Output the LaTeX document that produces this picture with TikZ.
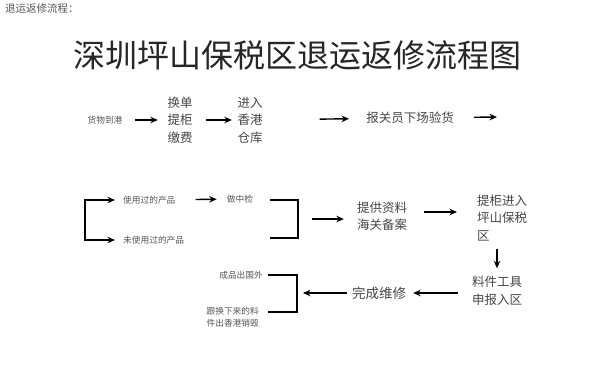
\documentclass[tikz,border=0pt]{standalone}
\usepackage{fontspec}
\newfontfamily\cjk{Noto Sans CJK SC}
\usepackage{tikz}
\usetikzlibrary{arrows.meta}
\definecolor{txtgray}{RGB}{70,70,70}
\definecolor{smallgray}{RGB}{85,85,85}
\tikzset{
  mid/.style={font=\cjk\fontsize{12.5}{17.5}\selectfont, text=txtgray, inner sep=0pt, align=center},
  tiny/.style={font=\cjk\fontsize{8.7}{12}\selectfont, text=smallgray, inner sep=0pt, align=center},
  arr/.style={-{Stealth[length=7.5pt,width=6.5pt]}, line width=1.4pt},
  brk/.style={line width=1.4pt}
}

\begin{document}
\begin{tikzpicture}[x=1pt, y=-1pt]
  \useasboundingbox[fill=white] (0,0) rectangle (599,375);

  %% Heading and title
  \node[anchor=west, font=\cjk\fontsize{10.5}{12}\selectfont, text=smallgray, inner sep=0pt]
    (hdr) at (5,9) {退运返修流程：};
  \node[font=\cjk\fontsize{32}{36}\selectfont, text=black!85, inner sep=0pt]
    (title) at (297,55) {深圳坪山保税区退运返修流程图};

  %% First row
  \node[tiny] (arrive) at (105,120) {货物到港};
  \node[mid] (swap) at (180,120) {换单\\提柜\\缴费};
  \node[mid] (hkwh) at (250,120) {进入\\香港\\仓库};
  \node[mid] (check) at (410,118) {报关员下场验货};
  \coordinate (rowend) at (497,117);

  \draw[arr, shorten <=12pt, shorten >=9.5pt] (arrive) -- (swap);
  \draw[arr, shorten <=13.5pt, shorten >=5.5pt] (swap) -- (hkwh);
  \draw[arr, shorten <=57pt, shorten >=17pt] (hkwh) -- (check);
  \draw[arr, shorten <=20pt] (check) -- (rowend);

  %% Second row
  \coordinate (split) at (85,220);
  \node[tiny, anchor=west] (used) at (123,200) {使用过的产品};
  \node[tiny, anchor=west] (unused) at (123,240) {未使用过的产品};
  \node[tiny] (inspect) at (240,199) {做中检};

  \draw[arr, shorten >=8pt] (split) |- (used.west);
  \draw[arr, shorten >=8pt] (split) |- (unused.west);
  \draw[arr, shorten <=20pt, shorten >=10pt] (used) -- (inspect);

  \coordinate (b1) at (270,200);
  \coordinate (b2) at (270,238);
  \coordinate (join1) at (298,219);
  \draw[brk] (b1) -| (join1) |- (b2);

  \node[mid] (docs) at (382,216) {提供资料\\海关备案};
  \node[mid, anchor=west, align=left] (pingshan) at (477,218) {提柜进入\\坪山保税\\区};

  \draw[arr, shorten <=14pt, shorten >=13pt] (join1) -- (docs.west |- join1);
  \draw[arr, shorten <=17pt, shorten >=20pt] (docs.east |- 0,212) -- (pingshan.west |- 0,212);

  %% Third row
  \node[mid] (declare) at (497,291) {料件工具\\申报入区};
  \draw[arr, shorten <=8pt, shorten >=8pt] (declare.north |- pingshan.south) -- (declare.north);

  \node[font=\cjk\fontsize{13.5}{16}\selectfont, text=txtgray, inner sep=0pt]
    (repair) at (379,293) {完成维修};
  \coordinate (join2) at (297,293);
  \draw[arr, shorten <=14pt, shorten >=7pt] (declare.west |- repair) -- (repair.east);
  \draw[arr, shorten <=5pt, shorten >=6pt] (repair.west) -- (join2);

  \coordinate (b3) at (268,275);
  \coordinate (b4) at (268,312);
  \draw[brk] (b3) -| (join2) |- (b4);

  \node[tiny, anchor=east] (export) at (263,275) {成品出国外};
  \node[tiny, anchor=east] (scrap) at (259,317) {跟换下来的料\\件出香港销毁};
\end{tikzpicture}
\end{document}
